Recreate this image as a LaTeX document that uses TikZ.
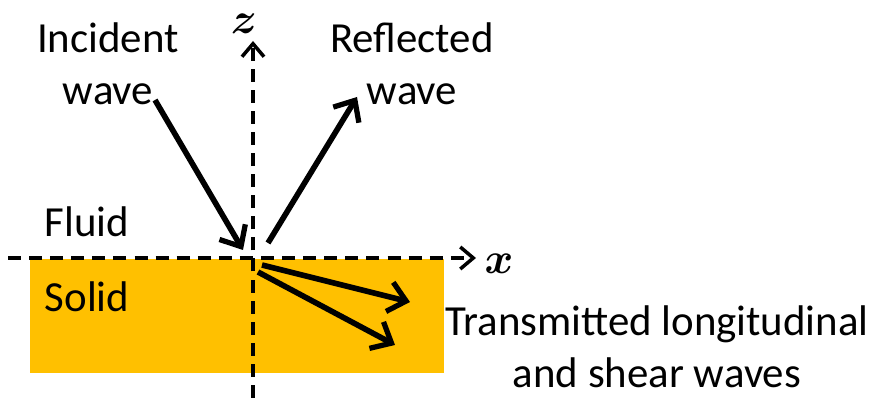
\documentclass[tikz,border=0pt]{standalone}
\usepackage{fontspec}
\setmainfont{Carlito}
\usetikzlibrary{arrows.meta}
\definecolor{Solid}{HTML}{FFC000}
\tikzset{
  lbl/.style={align=center, inner sep=0pt, font=\fontsize{24.4}{29.5}\selectfont},
  axis/.style={-{Straight Barb[length=2.6mm,width=4.4mm,line width=2pt]}, line width=2.3pt,
               dash pattern=on 7.4pt off 4.6pt},
  wave/.style={-{Straight Barb[length=3.4mm,width=6mm,line width=3pt]}, line width=3.2pt},
  axlbl/.style={inner sep=0pt, font=\fontsize{26}{28}\selectfont\boldmath},
}
\begin{document}
\begin{tikzpicture}[x=0.2mm, y=-0.2mm]
  \useasboundingbox (0,0) rectangle (875,398);
  % solid half space
  \fill[Solid] (30,259) rectangle (444,373);
  % axes
  \coordinate (xl) at (8,258);
  \coordinate (xr) at (476,258);
  \coordinate (zb) at (253,398);
  \coordinate (zt) at (253,41);
  \draw[axis] (xl) -- (xr);
  \draw[axis] (zb) -- (zt);
  \node[axlbl] (xlab) at (499,264) {$x$};
  \node[axlbl] (zlab) at (244,24) {$z$};
  % labels
  \node[lbl] (inc) at (108,64) {Incident\\wave};
  \node[lbl] (refl) at (412,64) {Reflected\\wave};
  \node[lbl] (fluid) at (87,222) {Fluid};
  \node[lbl] (solid) at (87,297) {Solid};
  \node[lbl] (trans) at (657,347) {Transmitted longitudinal\\and shear waves};
  % waves
  \coordinate (i0) at (155,100);
  \coordinate (i1) at (243,250);
  \coordinate (r0) at (268,243);
  \coordinate (r1) at (357,97);
  \coordinate (l0) at (262,265);
  \coordinate (l1) at (410,302);
  \coordinate (s0) at (258,272);
  \coordinate (s1) at (395,345);
  \draw[wave] (i0) -- (i1);
  \draw[wave] (r0) -- (r1);
  \draw[wave] (l0) -- (l1);
  \draw[wave] (s0) -- (s1);
\end{tikzpicture}
\end{document}
